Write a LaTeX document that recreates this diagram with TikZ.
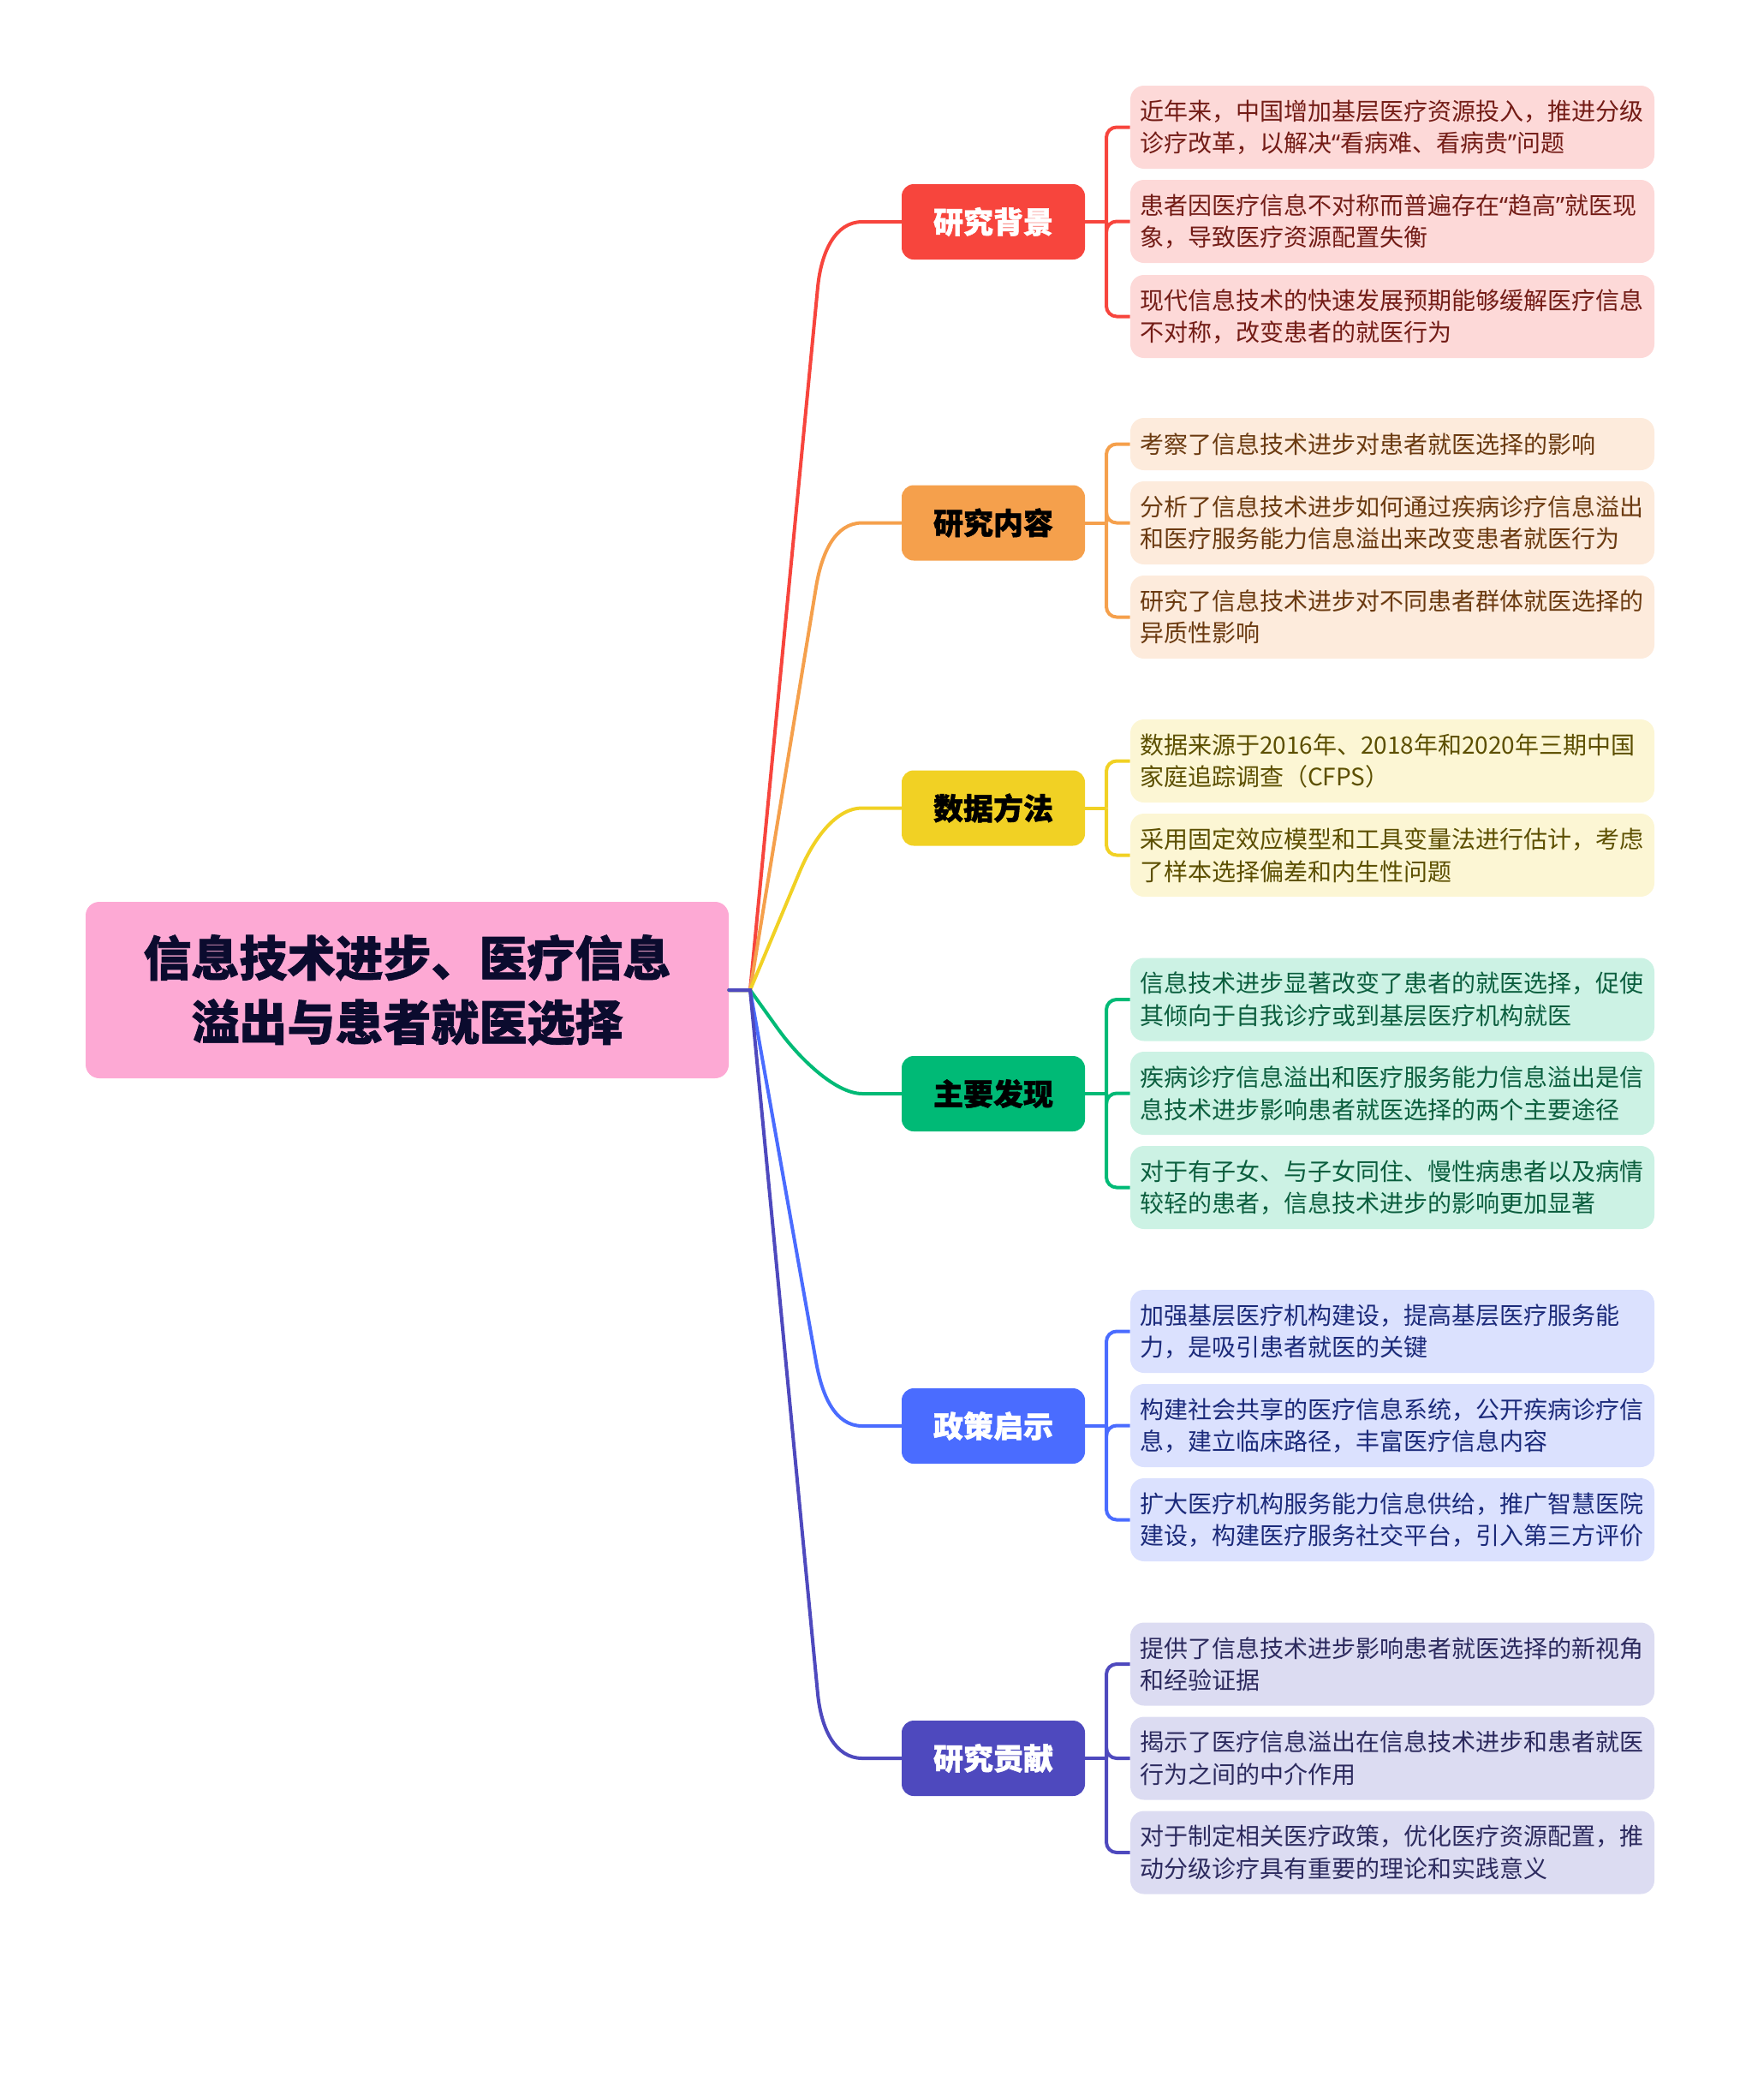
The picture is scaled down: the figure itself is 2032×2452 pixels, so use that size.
\documentclass[tikz,border=0pt]{standalone}
\usepackage{fontspec}
\setmainfont{Noto Sans CJK SC}
\newfontfamily\heavyfont{Noto Sans CJK SC}[BoldFeatures={FakeBold=1.2}]
\newfontfamily\qfont{Noto Sans}
\newcommand{\myoq}{{\qfont “}}
\newcommand{\mycq}{{\qfont ”}}
\definecolor{rootpink}{HTML}{FDA9D4}
\definecolor{roottext}{HTML}{0B0B2E}
\definecolor{cA}{HTML}{F7453D}
\definecolor{cB}{HTML}{F5A04C}
\definecolor{cC}{HTML}{F1D124}
\definecolor{cD}{HTML}{00BA76}
\definecolor{cE}{HTML}{4A6CFF}
\definecolor{cF}{HTML}{4E49BE}
\definecolor{fA}{HTML}{FDD9D8}
\definecolor{fB}{HTML}{FDEBDC}
\definecolor{fC}{HTML}{FCF6D4}
\definecolor{fD}{HTML}{CCF2E4}
\definecolor{fE}{HTML}{DBE1FE}
\definecolor{fF}{HTML}{DCDCF2}
\definecolor{tA}{HTML}{731C16}
\definecolor{tB}{HTML}{6B3A10}
\definecolor{tC}{HTML}{5C4F00}
\definecolor{tD}{HTML}{0B5E3E}
\definecolor{tE}{HTML}{1B2A7A}
\definecolor{tF}{HTML}{2C2A5E}
\tikzset{
  rootbox/.style={rounded corners=8pt, fill=rootpink, minimum width=375.5pt, minimum height=103pt,
    align=center, inner sep=0pt, text=roottext, font=\heavyfont\bfseries\fontsize{28}{37.5}\selectfont},
  topic/.style={rounded corners=7pt, minimum width=107pt, minimum height=44pt, inner sep=0pt,
    font=\heavyfont\bfseries\fontsize{17.5}{21}\selectfont},
  leaf/.style={rounded corners=8pt, minimum width=306pt, minimum height=48.5pt, text width=295pt,
    inner xsep=5.5pt, inner ysep=0pt, align=left, font=\fontsize{14}{18.75}\selectfont},
  conn/.style={line width=2pt, line cap=round},
  sub/.style={line width=2pt, rounded corners=6pt},
}
\begin{document}
\begin{tikzpicture}[x=0.5pt, y=-0.5pt]
\useasboundingbox (0,0) rectangle (2032,2452);
% root
\node[rootbox] (root) at (475.5,1156) {信息技术进步、医疗信息\\溢出与患者就医选择};
\coordinate (J) at (876,1156);
% topics
\node[topic, fill=cA, text=white] (b1) at (1160,259) {研究背景};
\node[topic, fill=cB, text=black] (b2) at (1160,610.5) {研究内容};
\node[topic, fill=cC, text=black] (b3) at (1160,943.5) {数据方法};
\node[topic, fill=cD, text=black] (b4) at (1160,1277) {主要发现};
\node[topic, fill=cE, text=white] (b5) at (1160,1665) {政策启示};
\node[topic, fill=cF, text=white] (b6) at (1160,2053) {研究贡献};
% root connectors
\draw[conn, cA] (root.east) -- (J) -- (955,335) .. controls (959,295) and (975,259) .. (1007,259) -- (b1.west);
\draw[conn, cB] (root.east) -- (J) -- (953,685.5) .. controls (959.5,646) and (975,610.5) .. (1007,610.5) -- (b2.west);
\draw[conn, cC] (root.east) -- (J) -- (933.6,1018.5) .. controls (949,981.6) and (975,943.5) .. (1007,943.5) -- (b3.west);
\draw[conn, cD] (root.east) -- (J) -- (909,1202) .. controls (932,1234) and (975,1277) .. (1007,1277) -- (b4.west);
\draw[conn, cE] (root.east) -- (J) -- (953,1590) .. controls (960,1629.4) and (975,1665) .. (1007,1665) -- (b5.west);
\draw[conn, cF] (root.east) -- (J) -- (955,1978) .. controls (959,2018) and (975,2053) .. (1007,2053) -- (b6.west);
% leaves group 1
\node[leaf, fill=fA, text=tA] (l11) at (1626,148.5) {近年来，中国增加基层医疗资源投入，推进分级\\诊疗改革，以解决\myoq 看病难、看病贵\mycq 问题};
\node[leaf, fill=fA, text=tA] (l12) at (1626,258.5) {患者因医疗信息不对称而普遍存在\myoq 趋高\mycq 就医现\\象，导致医疗资源配置失衡};
\node[leaf, fill=fA, text=tA] (l13) at (1626,369.5) {现代信息技术的快速发展预期能够缓解医疗信息\\不对称，改变患者的就医行为};
% group 2
\node[leaf, fill=fB, text=tB, minimum height=30.5pt] (l21) at (1626,518.5) {考察了信息技术进步对患者就医选择的影响};
\node[leaf, fill=fB, text=tB] (l22) at (1626,610.5) {分析了信息技术进步如何通过疾病诊疗信息溢出\\和医疗服务能力信息溢出来改变患者就医行为};
\node[leaf, fill=fB, text=tB] (l23) at (1626,720.5) {研究了信息技术进步对不同患者群体就医选择的\\异质性影响};
% group 3
\node[leaf, fill=fC, text=tC] (l31) at (1626,888.5) {数据来源于2016年、2018年和2020年三期中国\\家庭追踪调查（CFPS）};
\node[leaf, fill=fC, text=tC] (l32) at (1626,998.5) {采用固定效应模型和工具变量法进行估计，考虑\\了样本选择偏差和内生性问题};
% group 4
\node[leaf, fill=fD, text=tD] (l41) at (1626,1167) {信息技术进步显著改变了患者的就医选择，促使\\其倾向于自我诊疗或到基层医疗机构就医};
\node[leaf, fill=fD, text=tD] (l42) at (1626,1276.5) {疾病诊疗信息溢出和医疗服务能力信息溢出是信\\息技术进步影响患者就医选择的两个主要途径};
\node[leaf, fill=fD, text=tD] (l43) at (1626,1386.5) {对于有子女、与子女同住、慢性病患者以及病情\\较轻的患者，信息技术进步的影响更加显著};
% group 5
\node[leaf, fill=fE, text=tE] (l51) at (1626,1554.5) {加强基层医疗机构建设，提高基层医疗服务能\\力，是吸引患者就医的关键};
\node[leaf, fill=fE, text=tE] (l52) at (1626,1664.5) {构建社会共享的医疗信息系统，公开疾病诊疗信\\息，建立临床路径，丰富医疗信息内容};
\node[leaf, fill=fE, text=tE] (l53) at (1626,1774.5) {扩大医疗机构服务能力信息供给，推广智慧医院\\建设，构建医疗服务社交平台，引入第三方评价};
% group 6
\node[leaf, fill=fF, text=tF] (l61) at (1626,1943) {提供了信息技术进步影响患者就医选择的新视角\\和经验证据};
\node[leaf, fill=fF, text=tF] (l62) at (1626,2053) {揭示了医疗信息溢出在信息技术进步和患者就医\\行为之间的中介作用};
\node[leaf, fill=fF, text=tF] (l63) at (1626,2163) {对于制定相关医疗政策，优化医疗资源配置，推\\动分级诊疗具有重要的理论和实践意义};
% spine coordinates
\coordinate (s1) at (1292,259);
\coordinate (s2) at (1292,610.5);
\coordinate (s3) at (1292,943.5);
\coordinate (s4) at (1292,1277);
\coordinate (s5) at (1292,1665);
\coordinate (s6) at (1292,2053);
% branch connectors
\draw[sub, cA] (b1.east) -- (s1);
\foreach \l in {l11,l12,l13} \draw[sub, cA] (s1) |- (\l.west);
\draw[sub, cB] (b2.east) -- (s2);
\foreach \l in {l21,l22,l23} \draw[sub, cB] (s2) |- (\l.west);
\draw[sub, cC] (b3.east) -- (s3);
\foreach \l in {l31,l32} \draw[sub, cC] (s3) |- (\l.west);
\draw[sub, cD] (b4.east) -- (s4);
\foreach \l in {l41,l42,l43} \draw[sub, cD] (s4) |- (\l.west);
\draw[sub, cE] (b5.east) -- (s5);
\foreach \l in {l51,l52,l53} \draw[sub, cE] (s5) |- (\l.west);
\draw[sub, cF] (b6.east) -- (s6);
\foreach \l in {l61,l62,l63} \draw[sub, cF] (s6) |- (\l.west);
\end{tikzpicture}
\end{document}
